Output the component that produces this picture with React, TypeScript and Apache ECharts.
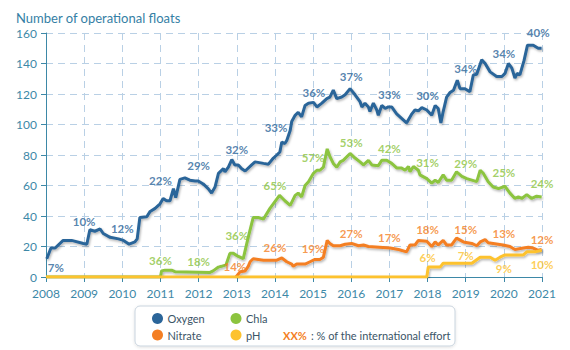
import React, { useEffect, useRef } from "react";
import * as echarts from "echarts";

const FONT = "Lato, 'Open Sans', sans-serif";

const years = [2008, 2021];
const yRange = [0, 160];

const oxygen: number[][] = [
  [2008.02, 12], [2008.13, 19], [2008.24, 19], [2008.45, 24], [2008.67, 24], [2008.98, 22],
  [2009.07, 21.5], [2009.15, 31], [2009.28, 30], [2009.42, 31.5], [2009.5, 28.5], [2009.68, 26],
  [2009.9, 25], [2010.03, 24], [2010.18, 21.5], [2010.33, 23], [2010.39, 25], [2010.46, 39],
  [2010.64, 39.5], [2010.73, 43], [2010.86, 45], [2010.99, 48], [2011.07, 51.5], [2011.16, 50],
  [2011.25, 50], [2011.34, 58], [2011.4, 52], [2011.51, 64], [2011.64, 65], [2011.77, 63.5],
  [2011.91, 63], [2011.99, 63], [2012.12, 61], [2012.25, 58], [2012.34, 55], [2012.43, 59],
  [2012.52, 68], [2012.65, 71], [2012.69, 69], [2012.78, 72], [2012.87, 77], [2012.95, 73.5],
  [2013.04, 73.5], [2013.13, 71], [2013.22, 69.5], [2013.39, 73.5], [2013.48, 75.5], [2013.7, 74.5],
  [2013.83, 74], [2013.96, 78], [2014.05, 80], [2014.13, 82], [2014.18, 88.5], [2014.26, 87.5],
  [2014.31, 89.5], [2014.4, 96], [2014.44, 102], [2014.53, 106], [2014.61, 108], [2014.7, 105],
  [2014.79, 112.5], [2014.88, 114], [2015.01, 114.5], [2015.1, 111.5], [2015.23, 114], [2015.36, 117],
  [2015.44, 118], [2015.53, 122.5], [2015.62, 117], [2015.75, 118], [2015.84, 119.5], [2015.97, 123.5],
  [2016.1, 119.5], [2016.23, 115], [2016.28, 111.5], [2016.36, 114], [2016.45, 111.5], [2016.49, 108.5],
  [2016.58, 114], [2016.67, 109.5], [2016.71, 106], [2016.8, 112.5], [2016.89, 110.5], [2016.97, 111.5],
  [2017.06, 111.5], [2017.19, 107], [2017.32, 104], [2017.45, 101], [2017.59, 107], [2017.67, 109.5],
  [2017.76, 109], [2017.85, 111], [2017.98, 109.5], [2018.11, 106], [2018.2, 112.5], [2018.28, 110.5],
  [2018.35, 101], [2018.41, 108.5], [2018.5, 118], [2018.59, 121], [2018.68, 122.5], [2018.78, 129],
  [2018.85, 123.5], [2018.98, 123.5], [2019.11, 121.5], [2019.2, 132.5], [2019.29, 133], [2019.42, 142.5],
  [2019.51, 140], [2019.64, 134.5], [2019.81, 131.5], [2019.95, 131.5], [2020.03, 133.5], [2020.12, 140],
  [2020.21, 137], [2020.29, 130.5], [2020.35, 133.5], [2020.42, 132.5], [2020.53, 142], [2020.62, 152],
  [2020.77, 152], [2020.9, 150], [2020.99, 150],
];

const chla: number[][] = [
  [2008, 0], [2011.0, 0], [2011.03, 4], [2011.12, 4.5], [2011.29, 4.5], [2011.38, 3.5],
  [2012.3, 3], [2012.38, 4], [2012.52, 6.5], [2012.6, 7], [2012.72, 8], [2012.82, 15.5],
  [2012.91, 15.5], [2013.04, 13.5], [2013.17, 12], [2013.3, 26], [2013.43, 39], [2013.56, 39],
  [2013.7, 38], [2013.87, 45], [2014.12, 53.5], [2014.26, 50], [2014.4, 47], [2014.53, 53.5],
  [2014.61, 55], [2014.7, 52.5], [2014.79, 60], [2014.88, 62.5], [2015.01, 68], [2015.1, 70],
  [2015.18, 70], [2015.27, 72], [2015.37, 84], [2015.44, 79], [2015.53, 74.5], [2015.62, 72],
  [2015.71, 75.5], [2015.79, 76.5], [2015.97, 81], [2016.1, 78], [2016.23, 75.5], [2016.32, 73.5],
  [2016.45, 76.5], [2016.54, 73.5], [2016.71, 73], [2016.8, 76.5], [2016.93, 76.5], [2017.06, 74.5],
  [2017.19, 71.5], [2017.32, 71.5], [2017.41, 70], [2017.5, 72.5], [2017.54, 69], [2017.63, 72.5],
  [2017.76, 70], [2017.8, 67], [2017.98, 64.5], [2018.11, 61.5], [2018.2, 63.5], [2018.28, 62],
  [2018.41, 67], [2018.5, 63.5], [2018.63, 63.5], [2018.76, 69], [2018.9, 66], [2019.03, 64.5],
  [2019.16, 63.5], [2019.29, 62.5], [2019.38, 70], [2019.46, 68], [2019.59, 62.5], [2019.72, 59],
  [2019.86, 58], [2020.03, 59.5], [2020.16, 55], [2020.29, 51.5], [2020.38, 52.5], [2020.47, 51.5],
  [2020.6, 54], [2020.73, 51.5], [2020.86, 53], [2020.99, 52.5],
];

const nitrate: number[][] = [
  [2012.98, 0], [2013.09, 3.5], [2013.22, 4], [2013.3, 7], [2013.35, 10], [2013.43, 12],
  [2013.7, 11], [2014.05, 11], [2014.18, 12.5], [2014.31, 10], [2014.44, 8.5], [2014.48, 7],
  [2014.57, 8.5], [2014.79, 8.5], [2014.92, 10], [2015.05, 11.5], [2015.18, 11.5], [2015.27, 13],
  [2015.37, 24], [2015.44, 22], [2015.53, 20.5], [2015.71, 20.5], [2015.84, 21.5], [2016.01, 22],
  [2016.19, 20.5], [2016.32, 21], [2016.45, 20], [2017.02, 19], [2017.24, 18], [2017.45, 16.5],
  [2017.54, 21], [2017.67, 21], [2017.76, 24], [2017.98, 23.5], [2018.11, 20], [2018.2, 23],
  [2018.28, 21], [2018.41, 24], [2018.5, 21], [2018.63, 21], [2018.76, 25.5], [2018.94, 23],
  [2019.16, 22], [2019.29, 20.5], [2019.38, 23], [2019.51, 24.5], [2019.59, 22.5], [2019.72, 22],
  [2019.98, 21], [2020.16, 20], [2020.29, 18], [2020.51, 19], [2020.64, 19.5], [2020.77, 19],
  [2020.9, 17.5], [2020.99, 18],
];

const ph: number[][] = [
  [2008, 0], [2017.98, 0], [2018.02, 6.5], [2018.33, 6.5], [2018.41, 9], [2019.16, 9],
  [2019.38, 13], [2019.64, 13], [2019.77, 11], [2019.9, 13], [2020.03, 14.5], [2020.51, 14.5],
  [2020.6, 16.5], [2020.82, 16.5], [2020.99, 17.5],
];

// percentage of the international effort: [year, value, text]
const oxygenPct: [number, number, string][] = [
  [2008.26, 6.4, "7%"], [2009.0, 36.7, "10%"], [2010.0, 31.5, "12%"], [2011.0, 63, "22%"],
  [2012.0, 72.8, "29%"], [2013.0, 83.7, "32%"], [2014.03, 98, "33%"], [2015.02, 121, "36%"],
  [2016.0, 131.3, "37%"], [2017.0, 119.4, "33%"], [2018.0, 118.7, "30%"], [2019.0, 137, "34%"],
  [2020.0, 146.7, "34%"], [2020.9, 160.2, "40%"],
];
const chlaPct: [number, number, string][] = [
  [2011.0, 11.1, "36%"], [2012.0, 10, "18%"], [2013.0, 27.5, "36%"], [2014.0, 60, "65%"],
  [2015.0, 78.5, "57%"], [2016.0, 88.3, "53%"], [2017.0, 84.4, "42%"], [2018.0, 75, "31%"],
  [2019.0, 74.5, "29%"], [2020.0, 68.4, "25%"], [2021.0, 61, "24%"],
];
const nitratePct: [number, number, string][] = [
  [2012.95, 7.2, "14%"], [2014.0, 19.5, "26%"], [2015.0, 18.4, "19%"], [2016.0, 28.6, "27%"],
  [2017.0, 26, "17%"], [2018.0, 31.3, "18%"], [2019.0, 31.3, "15%"], [2020.0, 28.6, "13%"],
  [2021.0, 24.9, "12%"],
];
const phPct: [number, number, string][] = [
  [2018.0, 12.9, "6%"], [2019.0, 14.4, "7%"], [2020.0, 5.7, "9%"], [2021.0, 8.5, "10%"],
];

const seriesNames = ["Oxygen", "Chla", "Nitrate", "pH"];
const COLORS = ["#2b6599", "#8cc43f", "#f47f24", "#fdc22e"];

const TEAL = "#3d88a7";
const GRIDC = "#b9d0e5";

export default function App() {
  const ref = useRef<HTMLDivElement>(null);
  useEffect(() => {
    if (!ref.current) return;
    const chart = echarts.init(ref.current, null, { renderer: "svg" });
    const lineS = (name: string, data: number[][], color: string, z: number) => ({
      name,
      type: "line",
      data,
      showSymbol: false,
      symbol: "none",
      z,
      lineStyle: {
        color,
        width: 3,
        shadowColor: "rgba(0,0,0,0.3)",
        shadowBlur: 2,
        shadowOffsetX: 1,
        shadowOffsetY: 1.5,
      },
      itemStyle: { color },
    });
    const labelS = (data: [number, number, string][], color: string) => ({
      type: "scatter",
      data: data.map((d) => ({ value: [d[0], d[1]], name: d[2] })),
      symbolSize: 1,
      clip: false,
      itemStyle: { color: "rgba(0,0,0,0)" },
      silent: true,
      z: 20,
      label: {
        show: true,
        position: "inside",
        formatter: "{b}",
        color,
        fontFamily: FONT,
        fontWeight: "bold",
        fontSize: 11.5,
      },
    });
    const legX = 135, legY = 306;
    const legendItems = [
      { n: seriesNames[0], c: COLORS[0], x: 157.5, y: 318.5 },
      { n: seriesNames[1], c: COLORS[1], x: 236, y: 318.5 },
      { n: seriesNames[2], c: COLORS[2], x: 157.5, y: 335 },
      { n: seriesNames[3], c: COLORS[3], x: 236, y: 335 },
    ];
    const graphic: any[] = [
      {
        type: "rect",
        shape: { x: legX, y: legY, width: 320, height: 40, r: 5 },
        style: {
          fill: "#ffffff",
          stroke: "#c9d4de",
          lineWidth: 1,
          shadowColor: "rgba(0,0,0,0.12)",
          shadowBlur: 3,
          shadowOffsetY: 1,
        },
      },
    ];
    legendItems.forEach((it) => {
      graphic.push({
        type: "circle",
        shape: { cx: it.x, cy: it.y, r: 5.5 },
        style: { fill: it.c },
      });
      graphic.push({
        type: "text",
        x: it.x + 10,
        y: it.y,
        style: {
          text: it.n,
          fill: "#3b5567",
          fontSize: 11,
          fontFamily: FONT,
          verticalAlign: "middle",
        },
      });
    });
    graphic.push({
      type: "text",
      x: 283,
      y: 335,
      style: {
        text: "XX%",
        fill: COLORS[2],
        fontSize: 11,
        fontWeight: "bold",
        fontFamily: FONT,
        verticalAlign: "middle",
      },
    });
    graphic.push({
      type: "text",
      x: 311,
      y: 335,
      style: {
        text: ": % of the international effort",
        fill: "#3b5567",
        fontSize: 11,
        fontFamily: FONT,
        verticalAlign: "middle",
      },
    });

    chart.setOption({
      animation: false,
      backgroundColor: "#ffffff",
      title: {
        text: "Number of operational floats",
        left: 11,
        top: 6,
        textStyle: { color: "#3580a5", fontSize: 13, fontWeight: "normal", fontFamily: FONT },
      },
      grid: { left: 46, right: 28, top: 33, bottom: 73, containLabel: false },
      xAxis: {
        type: "value",
        min: years[0],
        max: years[1],
        interval: 1,
        axisLine: { show: true, lineStyle: { color: TEAL, width: 1 } },
        axisTick: { show: true, length: 5, lineStyle: { color: TEAL } },
        axisLabel: {
          color: TEAL,
          fontSize: 12,
          fontFamily: FONT,
          margin: 10,
          formatter: (v: number) => String(v),
        },
        splitLine: { show: true, lineStyle: { color: GRIDC, type: [7, 5], width: 1 } },
      },
      yAxis: {
        type: "value",
        min: yRange[0],
        max: yRange[1],
        interval: 20,
        axisLine: { show: true, lineStyle: { color: TEAL, width: 1 } },
        axisTick: { show: true, length: 5, lineStyle: { color: TEAL } },
        axisLabel: { color: TEAL, fontSize: 12, fontFamily: FONT, margin: 9 },
        splitLine: { show: true, lineStyle: { color: GRIDC, type: [7, 5], width: 1 } },
      },
      series: [
        lineS(seriesNames[0], oxygen, COLORS[0], 3),
        lineS(seriesNames[1], chla, COLORS[1], 4),
        lineS(seriesNames[2], nitrate, COLORS[2], 5),
        lineS(seriesNames[3], ph, COLORS[3], 6),
        labelS(oxygenPct, COLORS[0]),
        labelS(chlaPct, COLORS[1]),
        labelS(nitratePct, COLORS[2]),
        labelS(phPct, COLORS[3]),
      ],
      graphic,
    });
    return () => chart.dispose();
  }, []);
  return <div ref={ref} style={{ width: 570, height: 350, position: "absolute", left: 0, top: 0 }} />;
}
